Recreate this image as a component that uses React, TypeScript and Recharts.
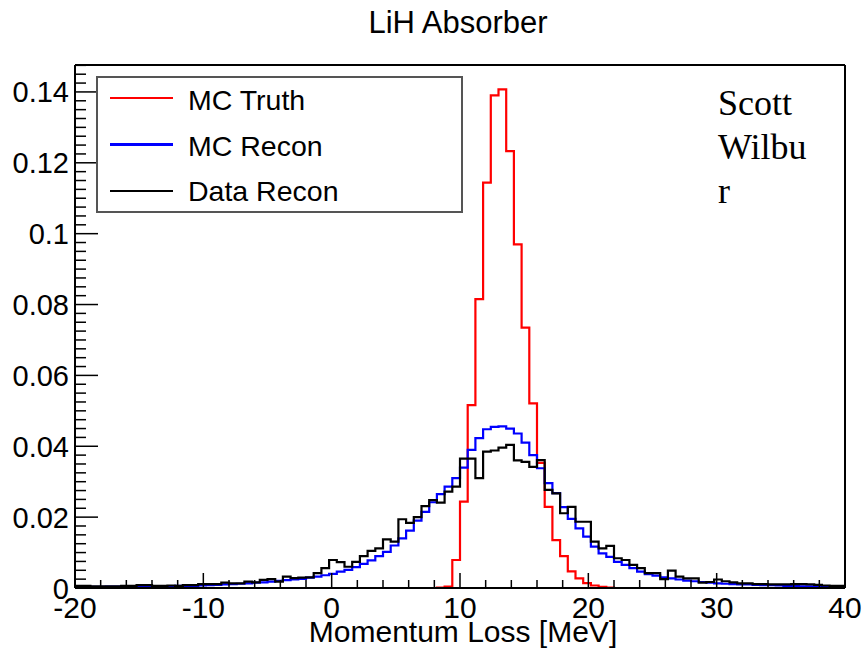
import { LineChart, Line, XAxis, YAxis, ReferenceLine } from 'recharts';

// 100 bins of 0.6 MeV from -20 to 40
const BIN_START = -20;
const BIN_WIDTH = 0.6;

const mcTruth = [
  0, 0, 0, 0, 0, 0, 0, 0, 0, 0,
  0, 0, 0, 0, 0, 0, 0, 0, 0, 0,
  0, 0, 0, 0, 0, 0, 0, 0, 0, 0,
  0, 0, 0, 0, 0, 0, 0, 0, 0, 0,
  0, 0, 0, 0, 0, 0, 0, 0.0001, 0.0004, 0.0079,
  0.0244, 0.0516, 0.0815, 0.1144, 0.139, 0.1407, 0.1233, 0.097, 0.0735, 0.0521,
  0.0353, 0.0229, 0.0135, 0.009, 0.0047, 0.0027, 0.0014, 0.0007, 0.0003, 0.0001,
  0, 0, 0, 0, 0, 0, 0, 0, 0, 0,
  0, 0, 0, 0, 0, 0, 0, 0, 0, 0,
  0, 0, 0, 0, 0, 0, 0, 0, 0, 0,
];

const mcRecon = [
  0.0003, 0.0003, 0.0003, 0.0003, 0.0004, 0.0004, 0.0004, 0.0004, 0.0004, 0.0005,
  0.0005, 0.0005, 0.0005, 0.0006, 0.0006, 0.0006, 0.0007, 0.0008, 0.0009, 0.001,
  0.0011, 0.0012, 0.0013, 0.0015, 0.0016, 0.0018, 0.002, 0.0022, 0.0024, 0.0026,
  0.0029, 0.0032, 0.0036, 0.004, 0.0046, 0.0051, 0.0059, 0.0068, 0.0078, 0.009,
  0.0102, 0.012, 0.014, 0.0162, 0.019, 0.0215, 0.0242, 0.0265, 0.0286, 0.031,
  0.034, 0.039, 0.0423, 0.0448, 0.0455, 0.0456, 0.045, 0.0436, 0.041, 0.0375,
  0.0338, 0.0296, 0.0268, 0.0228, 0.0195, 0.0168, 0.0145, 0.0117, 0.0098, 0.0088,
  0.0074, 0.0065, 0.0056, 0.0046, 0.0039, 0.0035, 0.003, 0.0027, 0.0024, 0.0021,
  0.0019, 0.0017, 0.0015, 0.0013, 0.0012, 0.0011, 0.001, 0.001, 0.0009, 0.0008,
  0.0008, 0.0007, 0.0006, 0.0006, 0.0005, 0.0005, 0.0004, 0.0004, 0.0003, 0.0003,
];

const dataRecon = [
  0.0006, 0.0006, 0.0005, 0.0005, 0.0005, 0.0005, 0.0006, 0.0006, 0.0008, 0.0008,
  0.0006, 0.0006, 0.0007, 0.0006, 0.0008, 0.0008, 0.0011, 0.0011, 0.0011, 0.0015,
  0.0013, 0.0013, 0.0018, 0.0016, 0.0023, 0.0025, 0.0018, 0.0032, 0.0028, 0.0029,
  0.003, 0.0042, 0.0056, 0.0079, 0.0073, 0.006, 0.0074, 0.009, 0.0105, 0.0112,
  0.0137, 0.0131, 0.0194, 0.0184, 0.02, 0.0231, 0.0248, 0.0241, 0.0272, 0.0286,
  0.0365, 0.0365, 0.031, 0.0385, 0.0388, 0.0396, 0.0404, 0.036, 0.0356, 0.0342,
  0.0361, 0.0277, 0.0267, 0.0211, 0.0229, 0.0187, 0.0187, 0.0131, 0.0112, 0.0119,
  0.0084, 0.0079, 0.0065, 0.0056, 0.0042, 0.0042, 0.0025, 0.0049, 0.0032, 0.0027,
  0.0027, 0.0015, 0.0017, 0.0024, 0.0019, 0.0016, 0.0013, 0.0013, 0.0011, 0.0011,
  0.001, 0.001, 0.001, 0.0011, 0.0011, 0.001, 0.0009, 0.0007, 0.0006, 0.0006,
];

const xTickLabels = [-20, -10, 0, 10, 20, 30, 40];
const xMinorStep = 2;
const yTickLabels = [0, 0.02, 0.04, 0.06, 0.08, 0.1, 0.12, 0.14];
const yMinorStep = 0.0025;
const X_MIN = -20;
const X_MAX = 40;
const Y_MAX = 0.1476;

const FONT = '"Liberation Sans", Arial, Helvetica, sans-serif';

// step-histogram rows: one point per bin edge, last edge repeats last bin
const rows = Array.from({ length: mcTruth.length + 1 }, (_, i) => {
  const b = Math.min(i, mcTruth.length - 1);
  return {
    x: +(BIN_START + BIN_WIDTH * i).toFixed(2),
    truth: mcTruth[b],
    recon: mcRecon[b],
    data: dataRecon[b],
  };
});

const xTicks: number[] = [];
for (let v = X_MIN; v <= X_MAX + 1e-9; v += xMinorStep) xTicks.push(v);
const yTicks: number[] = [];
for (let i = 0; i * yMinorStep <= Y_MAX; i++) yTicks.push(+(i * yMinorStep).toFixed(4));

function XTick(props: any) {
  const { x, y, payload } = props;
  const major = xTickLabels.includes(payload.value);
  return (
    <g>
      <line x1={x} x2={x} y1={y} y2={y - (major ? 15 : 8)} stroke="#000" strokeWidth={1.5} />
      {major && (
        <text x={x} y={y + 30} textAnchor="middle" fontFamily={FONT} fontSize={30} fill="#000">
          {payload.value}
        </text>
      )}
    </g>
  );
}

function YTick(props: any) {
  const { x, y, payload } = props;
  const label = yTickLabels.find((l) => Math.abs(l - payload.value) < 1e-7);
  const major = label !== undefined;
  return (
    <g>
      <line x1={x} x2={x + (major ? 23 : 11)} y1={y} y2={y} stroke="#000" strokeWidth={1.5} />
      {major && (
        <text x={x - 6} y={y + 10.5} textAnchor="end" fontFamily={FONT} fontSize={29} fill="#000">
          {String(label)}
        </text>
      )}
    </g>
  );
}

const legendItems = [
  { label: 'MC Truth', color: '#ff0000', width: 2 },
  { label: 'MC Recon', color: '#0000ff', width: 3 },
  { label: 'Data Recon', color: '#000000', width: 2 },
];

export default function App() {
  return (
    <div style={{ position: 'absolute', left: 0, top: 0, width: 866, height: 651, background: '#fff' }}>
      <LineChart width={866} height={651} data={rows} margin={{ top: 65, right: 21, left: 0, bottom: 0 }}>
        <XAxis
          dataKey="x"
          type="number"
          domain={[X_MIN, X_MAX]}
          ticks={xTicks}
          interval={0}
          tickSize={0}
          tickMargin={0}
          tickLine={false}
          tick={XTick}
          axisLine={{ stroke: '#000', strokeWidth: 2 }}
          height={63}
          allowDataOverflow
        />
        <YAxis
          type="number"
          domain={[0, Y_MAX]}
          ticks={yTicks}
          interval={0}
          tickSize={0}
          tickMargin={0}
          tickLine={false}
          tick={YTick}
          axisLine={{ stroke: '#000', strokeWidth: 2 }}
          width={75}
          allowDataOverflow
        />
        <ReferenceLine y={Y_MAX} stroke="#000" strokeWidth={2} />
        <ReferenceLine x={X_MAX} stroke="#000" strokeWidth={2} />
        <Line dataKey="truth" type="stepAfter" stroke="#ff0000" strokeWidth={2.2} dot={false} isAnimationActive={false} />
        <Line dataKey="recon" type="stepAfter" stroke="#0000ff" strokeWidth={2.2} dot={false} isAnimationActive={false} />
        <Line dataKey="data" type="stepAfter" stroke="#000000" strokeWidth={2.2} dot={false} isAnimationActive={false} />
      </LineChart>
      <svg width={866} height={651} style={{ position: 'absolute', left: 0, top: 0, pointerEvents: 'none' }}>
        <text x={458} y={33} textAnchor="middle" fontFamily={FONT} fontSize={31} fill="#000">
          LiH Absorber
        </text>
        <text x={463} y={642} textAnchor="middle" fontFamily={FONT} fontSize={30} fill="#000">
          Momentum Loss [MeV]
        </text>
        <rect x={97} y={77} width={365} height={135} fill="#fff" stroke="#555" strokeWidth={2} />
        {legendItems.map((item, i) => (
          <g key={item.label}>
            <line x1={110} x2={173} y1={98 + i * 46.5} y2={98 + i * 46.5} stroke={item.color} strokeWidth={item.width} />
            <text x={188} y={110 + i * 45.5} fontFamily={FONT} fontSize={28.5} fill="#000">
              {item.label}
            </text>
          </g>
        ))}
        <text fontFamily='"Liberation Serif", "Times New Roman", serif' fontSize={36} fill="#000">
          <tspan x={718} y={115}>Scott</tspan>
          <tspan x={718} y={159}>Wilbu</tspan>
          <tspan x={718} y={203}>r</tspan>
        </text>
      </svg>
    </div>
  );
}
